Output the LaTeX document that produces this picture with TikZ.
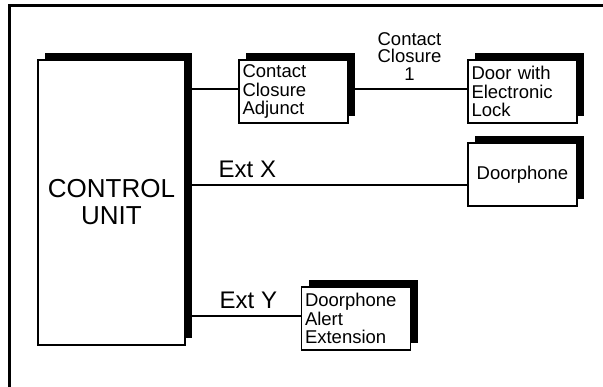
\documentclass[tikz,border=0pt]{standalone}
\usepackage{fontspec}
\setmainfont{Liberation Sans}
\usetikzlibrary{shadows}

\begin{document}
\begin{tikzpicture}[x=1pt,y=1pt,line width=1.4pt,
    unit node/.style={draw,fill=white,line width=1.5pt,minimum width=147pt,minimum height=285pt,
      align=center,font=\fontsize{26}{27}\selectfont,
      general shadow={fill=black,shadow xshift=7pt,shadow yshift=7pt}},
    box node/.style={draw,fill=white,line width=1.5pt,minimum width=109pt,minimum height=63pt,
      inner xsep=3pt,text width=102pt,align=left,font=\fontsize{18.5}{18.5}\selectfont,
      general shadow={fill=black,shadow xshift=7pt,shadow yshift=7pt}},
    ext label/.style={anchor=base west,inner sep=0pt,font=\fontsize{24}{25}\selectfont}]

  \useasboundingbox (0,0) rectangle (603,387);
  % frame
  \draw[line width=2.5pt] (9.5,0) |- (603,381.5);

  \node[unit node] (cu) at (111.5,184.5) {CONTROL\\UNIT};
  \node[box node] (cca) at (293.5,295.5) {Contact\\Closure\\Adjunct};
  \node[box node] (lock) [right of=cca,node distance=229pt] {Door with\\Electronic\\Lock};
  \node[box node,align=center] (phone) [below of=lock,node distance=83pt] {Doorphone};
  \node[box node] (alert) at (356,68.5) {Doorphone\\Alert\\Extension};

  \node[inner sep=0pt,anchor=north,align=center,font=\fontsize{18.5}{17.5}\selectfont] (cc1)
    at (409.5,355.5) {Contact\\Closure\\1};
  \node[ext label] (extx) at (218,209.5) {Ext X};
  \node[ext label] (exty) at (219,78) {Ext Y};

  \coordinate (ccain) at ([yshift=2.5pt]cca.west);
  \coordinate (ccaout) at ([yshift=2.5pt]cca.east);
  \coordinate (lockin) at ([yshift=2.5pt]lock.west);
  \coordinate (phonein) at ([yshift=-10.5pt]phone.west);
  \coordinate (alertin) at ([yshift=2.5pt]alert.west);

  \path (cu.east |- ccain) edge (ccain)
        (ccaout) edge (lockin)
        (cu.east |- phonein) edge (phonein)
        (cu.east |- alertin) edge (alertin);
\end{tikzpicture}
\end{document}
